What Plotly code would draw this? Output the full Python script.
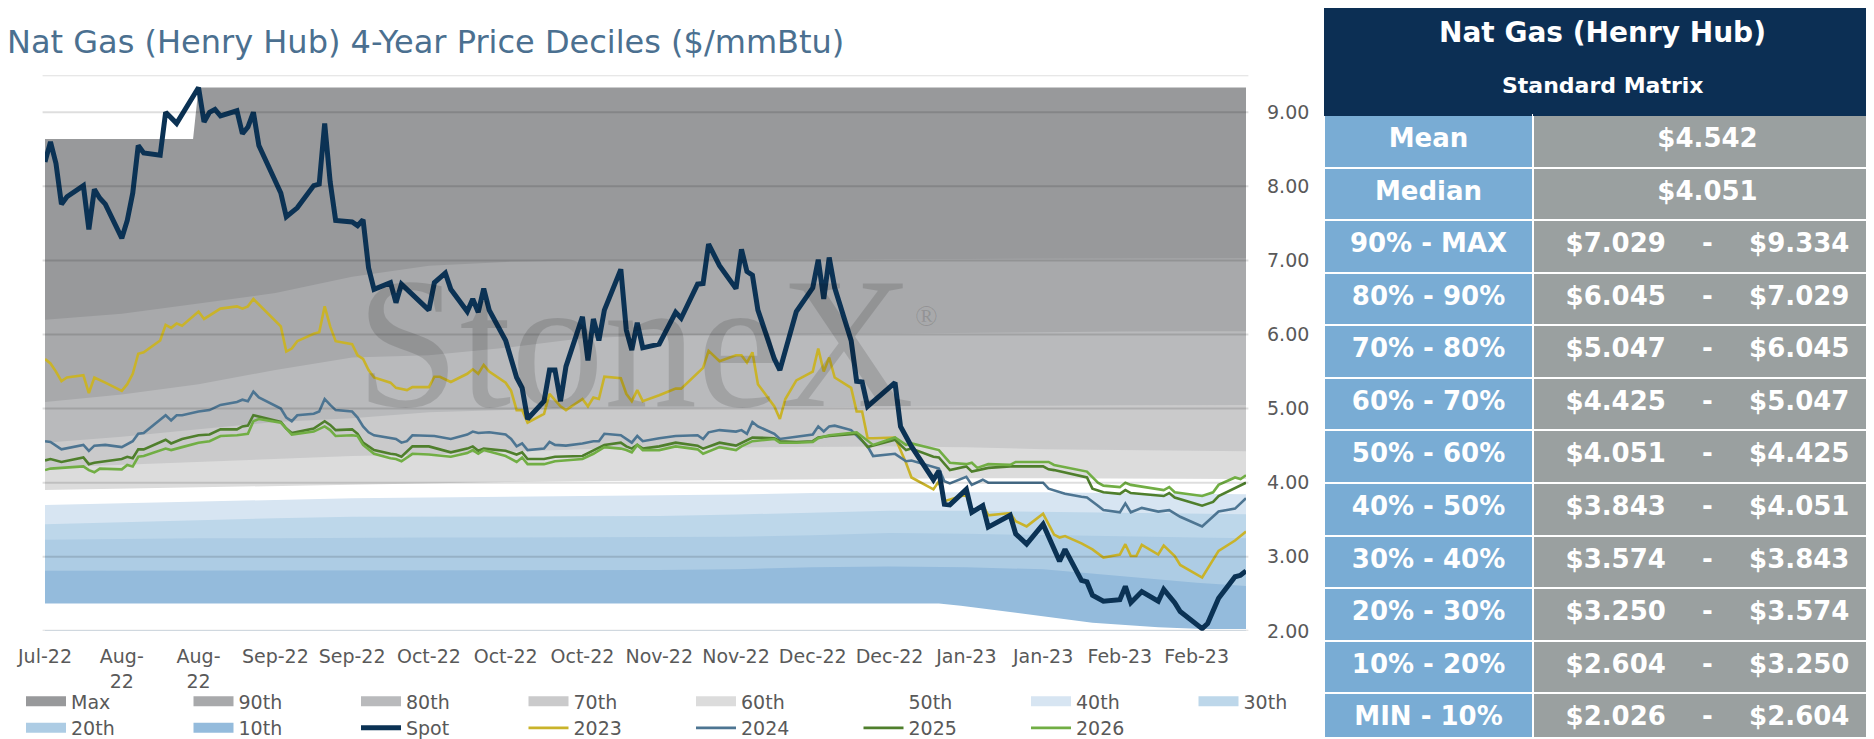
import plotly.graph_objects as go

# ---------------- data ----------------
BAND_DATES = ["2022-07-25", "2022-08-08", "2022-08-22", "2022-09-05", "2022-09-19", "2022-10-03",
              "2022-10-17", "2022-10-31", "2022-11-14", "2022-11-28", "2022-12-12", "2022-12-26",
              "2023-01-09", "2023-01-23", "2023-02-06", "2023-02-20", "2023-03-01"]
P90 = [6.20, 6.28, 6.42, 6.56, 6.78, 6.93, 6.98, 7.00, 7.00, 7.01, 7.01, 7.02, 7.02, 7.02, 7.03, 7.03, 7.029]
P80 = [5.09, 5.19, 5.33, 5.52, 5.69, 5.72, 5.82, 5.95, 5.99, 6.00, 6.01, 6.02, 6.03, 6.04, 6.04, 6.045, 6.045]
P70 = [4.54, 4.62, 4.72, 4.82, 4.87, 4.95, 4.98, 5.00, 5.00, 5.01, 5.02, 5.03, 5.04, 5.04, 5.045, 5.047, 5.047]
P60 = [4.20, 4.24, 4.29, 4.33, 4.36, 4.38, 4.42, 4.45, 4.47, 4.48, 4.48, 4.49, 4.48, 4.45, 4.44, 4.43, 4.425]
P50 = [3.90, 3.92, 3.94, 3.96, 3.98, 4.00, 4.01, 4.02, 4.03, 4.04, 4.04, 4.05, 4.06, 4.06, 4.06, 4.05, 4.051]
P40 = [3.70, 3.72, 3.74, 3.77, 3.79, 3.80, 3.81, 3.82, 3.82, 3.84, 3.86, 3.87, 3.87, 3.87, 3.86, 3.85, 3.843]
P30 = [3.44, 3.47, 3.50, 3.52, 3.54, 3.54, 3.54, 3.55, 3.55, 3.57, 3.60, 3.62, 3.62, 3.61, 3.60, 3.58, 3.574]
P20 = [3.23, 3.24, 3.25, 3.25, 3.26, 3.26, 3.26, 3.26, 3.26, 3.27, 3.29, 3.32, 3.31, 3.29, 3.27, 3.26, 3.250]
P10 = [2.81, 2.81, 2.81, 2.81, 2.82, 2.82, 2.82, 2.82, 2.82, 2.83, 2.86, 2.87, 2.86, 2.83, 2.74, 2.65, 2.604]

MAX_SERIES = [("2022-07-25", 8.64), ("2022-08-21", 8.64), ("2022-08-22", 9.334), ("2023-03-01", 9.334)]
MIN_SERIES = [("2022-07-25", 2.37), ("2023-01-04", 2.37), ("2023-01-08", 2.34), ("2023-01-20", 2.22),
              ("2023-02-01", 2.11), ("2023-02-13", 2.05), ("2023-02-21", 2.026), ("2023-03-01", 2.026)]

SPOT = [
    ("2022-07-25", 8.33), ("2022-07-26", 8.60), ("2022-07-27", 8.31), ("2022-07-28", 7.76), ("2022-07-29", 7.86),
    ("2022-08-01", 8.01), ("2022-08-02", 7.42), ("2022-08-03", 7.96), ("2022-08-04", 7.84), ("2022-08-05", 7.76),
    ("2022-08-08", 7.30), ("2022-08-09", 7.54), ("2022-08-10", 7.91), ("2022-08-11", 8.55), ("2022-08-12", 8.45),
    ("2022-08-15", 8.42), ("2022-08-16", 9.00), ("2022-08-18", 8.85), ("2022-08-22", 9.334), ("2022-08-23", 8.87),
    ("2022-08-24", 9.00), ("2022-08-25", 9.04), ("2022-08-26", 8.95), ("2022-08-29", 9.02), ("2022-08-30", 8.71),
    ("2022-08-31", 8.80), ("2022-09-01", 9.00), ("2022-09-02", 8.55), ("2022-09-06", 7.91), ("2022-09-07", 7.59),
    ("2022-09-09", 7.71), ("2022-09-12", 8.01), ("2022-09-13", 8.03), ("2022-09-14", 8.85), ("2022-09-15", 8.06),
    ("2022-09-16", 7.54), ("2022-09-19", 7.52), ("2022-09-20", 7.47), ("2022-09-21", 7.55), ("2022-09-22", 6.90),
    ("2022-09-23", 6.61), ("2022-09-26", 6.70), ("2022-09-27", 6.43), ("2022-09-28", 6.68), ("2022-10-03", 6.33),
    ("2022-10-04", 6.70), ("2022-10-06", 6.83), ("2022-10-07", 6.61), ("2022-10-10", 6.31), ("2022-10-11", 6.48),
    ("2022-10-12", 6.30), ("2022-10-13", 6.62), ("2022-10-14", 6.33), ("2022-10-17", 5.92), ("2022-10-19", 5.42),
    ("2022-10-20", 5.28), ("2022-10-21", 4.86), ("2022-10-24", 5.10), ("2022-10-25", 5.52), ("2022-10-26", 5.52),
    ("2022-10-27", 5.10), ("2022-10-28", 5.57), ("2022-10-31", 6.24), ("2022-11-01", 5.65), ("2022-11-02", 6.21),
    ("2022-11-03", 5.92), ("2022-11-04", 6.33), ("2022-11-07", 6.88), ("2022-11-08", 6.06), ("2022-11-09", 5.79),
    ("2022-11-10", 6.16), ("2022-11-11", 5.82), ("2022-11-14", 5.87), ("2022-11-17", 6.30), ("2022-11-18", 6.22),
    ("2022-11-21", 6.68), ("2022-11-22", 6.69), ("2022-11-23", 7.22), ("2022-11-25", 6.93), ("2022-11-28", 6.62),
    ("2022-11-29", 7.15), ("2022-11-30", 6.85), ("2022-12-01", 6.80), ("2022-12-02", 6.33), ("2022-12-05", 5.67),
    ("2022-12-06", 5.52), ("2022-12-09", 6.31), ("2022-12-12", 6.63), ("2022-12-13", 7.01), ("2022-12-14", 6.48),
    ("2022-12-15", 7.04), ("2022-12-16", 6.63), ("2022-12-19", 5.92), ("2022-12-20", 5.37), ("2022-12-21", 5.36),
    ("2022-12-22", 5.03), ("2022-12-27", 5.35), ("2022-12-28", 4.76), ("2022-12-30", 4.49), ("2023-01-03", 4.04),
    ("2023-01-04", 4.16), ("2023-01-05", 3.71), ("2023-01-06", 3.70), ("2023-01-09", 3.91), ("2023-01-10", 3.60),
    ("2023-01-12", 3.69), ("2023-01-13", 3.40), ("2023-01-17", 3.56), ("2023-01-18", 3.31), ("2023-01-20", 3.17),
    ("2023-01-23", 3.44), ("2023-01-25", 3.10), ("2023-01-26", 2.94), ("2023-01-27", 3.10), ("2023-01-30", 2.68),
    ("2023-01-31", 2.66), ("2023-02-01", 2.48), ("2023-02-03", 2.40), ("2023-02-06", 2.42), ("2023-02-07", 2.60),
    ("2023-02-08", 2.38), ("2023-02-10", 2.53), ("2023-02-13", 2.40), ("2023-02-14", 2.56), ("2023-02-16", 2.38),
    ("2023-02-17", 2.26), ("2023-02-21", 2.03), ("2023-02-22", 2.10), ("2023-02-24", 2.44), ("2023-02-27", 2.73),
    ("2023-02-28", 2.75), ("2023-03-01", 2.81)]

Y2023 = [
    ("2022-07-25", 5.67), ("2022-07-26", 5.61), ("2022-07-27", 5.50), ("2022-07-28", 5.37), ("2022-07-29", 5.42),
    ("2022-08-01", 5.45), ("2022-08-02", 5.21), ("2022-08-03", 5.42), ("2022-08-05", 5.35), ("2022-08-08", 5.24),
    ("2022-08-09", 5.33), ("2022-08-10", 5.47), ("2022-08-11", 5.74), ("2022-08-12", 5.76), ("2022-08-15", 5.92),
    ("2022-08-16", 6.13), ("2022-08-17", 6.09), ("2022-08-18", 6.15), ("2022-08-19", 6.12), ("2022-08-22", 6.31),
    ("2022-08-23", 6.21), ("2022-08-26", 6.35), ("2022-08-29", 6.38), ("2022-08-30", 6.35), ("2022-08-31", 6.38),
    ("2022-09-01", 6.48), ("2022-09-06", 6.11), ("2022-09-07", 5.77), ("2022-09-08", 5.81), ("2022-09-09", 5.91),
    ("2022-09-12", 6.01), ("2022-09-13", 6.03), ("2022-09-14", 6.38), ("2022-09-15", 6.11), ("2022-09-16", 5.91),
    ("2022-09-19", 5.87), ("2022-09-20", 5.72), ("2022-09-21", 5.67), ("2022-09-22", 5.52), ("2022-09-23", 5.42),
    ("2022-09-26", 5.35), ("2022-09-27", 5.28), ("2022-09-29", 5.25), ("2022-09-30", 5.29), ("2022-10-03", 5.29),
    ("2022-10-04", 5.43), ("2022-10-05", 5.43), ("2022-10-07", 5.36), ("2022-10-10", 5.47), ("2022-10-11", 5.53),
    ("2022-10-12", 5.47), ("2022-10-13", 5.59), ("2022-10-14", 5.50), ("2022-10-17", 5.35), ("2022-10-18", 5.24),
    ("2022-10-19", 4.98), ("2022-10-20", 4.98), ("2022-10-21", 4.81), ("2022-10-24", 4.93), ("2022-10-25", 5.20),
    ("2022-10-27", 5.03), ("2022-10-28", 4.98), ("2022-10-31", 5.13), ("2022-11-01", 5.03), ("2022-11-02", 5.15),
    ("2022-11-03", 5.13), ("2022-11-04", 5.43), ("2022-11-07", 5.41), ("2022-11-08", 5.20), ("2022-11-09", 5.10),
    ("2022-11-10", 5.25), ("2022-11-11", 5.10), ("2022-11-14", 5.18), ("2022-11-17", 5.27), ("2022-11-18", 5.27),
    ("2022-11-22", 5.55), ("2022-11-23", 5.78), ("2022-11-25", 5.64), ("2022-11-28", 5.72), ("2022-11-29", 5.72),
    ("2022-11-30", 5.62), ("2022-12-01", 5.76), ("2022-12-02", 5.33), ("2022-12-05", 5.03), ("2022-12-06", 4.86),
    ("2022-12-07", 5.13), ("2022-12-09", 5.38), ("2022-12-12", 5.50), ("2022-12-13", 5.81), ("2022-12-14", 5.50),
    ("2022-12-15", 5.69), ("2022-12-16", 5.42), ("2022-12-19", 5.28), ("2022-12-20", 4.96), ("2022-12-21", 4.96),
    ("2022-12-22", 4.60), ("2022-12-23", 4.60), ("2022-12-27", 4.61), ("2022-12-29", 4.27), ("2022-12-30", 4.07),
    ("2023-01-03", 3.91), ("2023-01-04", 4.02), ("2023-01-05", 3.75), ("2023-01-06", 3.77), ("2023-01-09", 3.84),
    ("2023-01-10", 3.59), ("2023-01-12", 3.70), ("2023-01-13", 3.56), ("2023-01-17", 3.59), ("2023-01-18", 3.48),
    ("2023-01-20", 3.41), ("2023-01-23", 3.58), ("2023-01-25", 3.30), ("2023-01-26", 3.26), ("2023-01-27", 3.28),
    ("2023-01-30", 3.18), ("2023-02-01", 3.10), ("2023-02-03", 2.99), ("2023-02-06", 3.03), ("2023-02-07", 3.17),
    ("2023-02-08", 3.01), ("2023-02-09", 3.01), ("2023-02-10", 3.16), ("2023-02-13", 3.03), ("2023-02-14", 3.15),
    ("2023-02-16", 3.01), ("2023-02-17", 2.89), ("2023-02-21", 2.72), ("2023-02-24", 3.08), ("2023-02-27", 3.22),
    ("2023-03-01", 3.34)]

Y2024 = [
    ("2022-07-25", 4.56), ("2022-07-26", 4.55), ("2022-07-28", 4.45), ("2022-08-01", 4.51), ("2022-08-02", 4.43),
    ("2022-08-03", 4.50), ("2022-08-05", 4.51), ("2022-08-08", 4.48), ("2022-08-10", 4.56), ("2022-08-11", 4.66),
    ("2022-08-12", 4.67), ("2022-08-16", 4.91), ("2022-08-17", 4.84), ("2022-08-18", 4.91), ("2022-08-19", 4.91),
    ("2022-08-22", 4.96), ("2022-08-24", 4.98), ("2022-08-26", 5.05), ("2022-08-29", 5.09), ("2022-08-30", 5.12),
    ("2022-08-31", 5.10), ("2022-09-01", 5.23), ("2022-09-02", 5.15), ("2022-09-06", 5.00), ("2022-09-07", 4.88),
    ("2022-09-08", 4.83), ("2022-09-09", 4.91), ("2022-09-12", 4.93), ("2022-09-13", 4.96), ("2022-09-14", 5.13),
    ("2022-09-15", 5.05), ("2022-09-16", 4.98), ("2022-09-19", 4.96), ("2022-09-20", 4.88), ("2022-09-21", 4.76),
    ("2022-09-22", 4.68), ("2022-09-23", 4.64), ("2022-09-26", 4.60), ("2022-09-27", 4.59), ("2022-09-28", 4.54),
    ("2022-09-29", 4.56), ("2022-09-30", 4.64), ("2022-10-03", 4.64), ("2022-10-04", 4.63), ("2022-10-07", 4.59),
    ("2022-10-10", 4.65), ("2022-10-11", 4.69), ("2022-10-12", 4.67), ("2022-10-14", 4.68), ("2022-10-17", 4.65),
    ("2022-10-18", 4.59), ("2022-10-19", 4.49), ("2022-10-20", 4.53), ("2022-10-21", 4.44), ("2022-10-24", 4.46),
    ("2022-10-25", 4.55), ("2022-10-26", 4.51), ("2022-10-28", 4.50), ("2022-10-31", 4.53), ("2022-11-02", 4.56),
    ("2022-11-03", 4.56), ("2022-11-04", 4.66), ("2022-11-07", 4.64), ("2022-11-08", 4.59), ("2022-11-09", 4.54),
    ("2022-11-10", 4.63), ("2022-11-11", 4.56), ("2022-11-14", 4.60), ("2022-11-17", 4.63), ("2022-11-21", 4.64),
    ("2022-11-22", 4.59), ("2022-11-23", 4.68), ("2022-11-25", 4.71), ("2022-11-28", 4.69), ("2022-11-29", 4.71),
    ("2022-11-30", 4.66), ("2022-12-01", 4.82), ("2022-12-02", 4.76), ("2022-12-05", 4.66), ("2022-12-06", 4.59),
    ("2022-12-07", 4.60), ("2022-12-09", 4.63), ("2022-12-12", 4.65), ("2022-12-13", 4.76), ("2022-12-14", 4.69),
    ("2022-12-15", 4.76), ("2022-12-16", 4.77), ("2022-12-19", 4.71), ("2022-12-20", 4.64), ("2022-12-22", 4.49),
    ("2022-12-23", 4.36), ("2022-12-27", 4.39), ("2022-12-29", 4.29), ("2022-12-30", 4.30), ("2023-01-04", 4.19),
    ("2023-01-05", 4.02), ("2023-01-06", 3.99), ("2023-01-09", 4.08), ("2023-01-10", 3.97), ("2023-01-12", 4.04),
    ("2023-01-13", 4.00), ("2023-01-17", 4.00), ("2023-01-18", 3.99), ("2023-01-23", 4.00), ("2023-01-24", 3.92),
    ("2023-01-25", 3.90), ("2023-01-27", 3.85), ("2023-01-30", 3.81), ("2023-01-31", 3.80), ("2023-02-02", 3.69),
    ("2023-02-03", 3.63), ("2023-02-06", 3.60), ("2023-02-07", 3.72), ("2023-02-08", 3.60), ("2023-02-10", 3.66),
    ("2023-02-13", 3.61), ("2023-02-15", 3.63), ("2023-02-17", 3.54), ("2023-02-21", 3.41), ("2023-02-24", 3.61),
    ("2023-02-27", 3.65), ("2023-03-01", 3.79)]

Y2025 = [
    ("2022-07-25", 4.30), ("2022-07-26", 4.32), ("2022-07-28", 4.28), ("2022-08-01", 4.34), ("2022-08-02", 4.25),
    ("2022-08-03", 4.27), ("2022-08-08", 4.32), ("2022-08-09", 4.35), ("2022-08-10", 4.33), ("2022-08-11", 4.45),
    ("2022-08-12", 4.45), ("2022-08-16", 4.58), ("2022-08-17", 4.53), ("2022-08-19", 4.59), ("2022-08-22", 4.64),
    ("2022-08-24", 4.65), ("2022-08-26", 4.72), ("2022-08-29", 4.72), ("2022-08-30", 4.76), ("2022-08-31", 4.77),
    ("2022-09-01", 4.91), ("2022-09-06", 4.82), ("2022-09-07", 4.73), ("2022-09-08", 4.67), ("2022-09-12", 4.73),
    ("2022-09-14", 4.83), ("2022-09-15", 4.78), ("2022-09-16", 4.71), ("2022-09-19", 4.72), ("2022-09-20", 4.66),
    ("2022-09-21", 4.54), ("2022-09-23", 4.44), ("2022-09-26", 4.39), ("2022-09-27", 4.38), ("2022-09-28", 4.35),
    ("2022-09-30", 4.49), ("2022-10-03", 4.49), ("2022-10-07", 4.41), ("2022-10-10", 4.46), ("2022-10-11", 4.49),
    ("2022-10-12", 4.43), ("2022-10-13", 4.46), ("2022-10-17", 4.43), ("2022-10-19", 4.38), ("2022-10-20", 4.41),
    ("2022-10-21", 4.32), ("2022-10-24", 4.32), ("2022-10-26", 4.35), ("2022-10-31", 4.36), ("2022-11-02", 4.44),
    ("2022-11-04", 4.51), ("2022-11-07", 4.54), ("2022-11-08", 4.49), ("2022-11-09", 4.46), ("2022-11-10", 4.51),
    ("2022-11-11", 4.46), ("2022-11-14", 4.49), ("2022-11-17", 4.54), ("2022-11-21", 4.50), ("2022-11-22", 4.46),
    ("2022-11-25", 4.54), ("2022-11-28", 4.50), ("2022-11-29", 4.54), ("2022-12-01", 4.61), ("2022-12-05", 4.60),
    ("2022-12-06", 4.56), ("2022-12-09", 4.55), ("2022-12-12", 4.56), ("2022-12-13", 4.61), ("2022-12-15", 4.63),
    ("2022-12-20", 4.66), ("2022-12-22", 4.48), ("2022-12-27", 4.58), ("2022-12-29", 4.44), ("2022-12-30", 4.46),
    ("2023-01-03", 4.35), ("2023-01-04", 4.34), ("2023-01-06", 4.17), ("2023-01-09", 4.22), ("2023-01-10", 4.15),
    ("2023-01-13", 4.20), ("2023-01-17", 4.22), ("2023-01-23", 4.22), ("2023-01-24", 4.18), ("2023-01-25", 4.17),
    ("2023-01-27", 4.14), ("2023-01-31", 4.07), ("2023-02-01", 3.92), ("2023-02-03", 3.87), ("2023-02-06", 3.85),
    ("2023-02-07", 3.90), ("2023-02-08", 3.86), ("2023-02-14", 3.82), ("2023-02-15", 3.86), ("2023-02-16", 3.80),
    ("2023-02-21", 3.69), ("2023-02-23", 3.74), ("2023-02-24", 3.82), ("2023-03-01", 4.00)]

Y2026 = [
    ("2022-07-25", 4.17), ("2022-07-26", 4.19), ("2022-07-28", 4.20), ("2022-08-01", 4.22), ("2022-08-02", 4.17),
    ("2022-08-03", 4.14), ("2022-08-04", 4.19), ("2022-08-08", 4.18), ("2022-08-09", 4.24), ("2022-08-10", 4.22),
    ("2022-08-11", 4.35), ("2022-08-12", 4.36), ("2022-08-16", 4.46), ("2022-08-17", 4.44), ("2022-08-19", 4.48),
    ("2022-08-22", 4.54), ("2022-08-24", 4.56), ("2022-08-26", 4.63), ("2022-08-29", 4.64), ("2022-08-31", 4.66),
    ("2022-09-01", 4.83), ("2022-09-02", 4.86), ("2022-09-06", 4.81), ("2022-09-07", 4.73), ("2022-09-08", 4.65),
    ("2022-09-12", 4.69), ("2022-09-14", 4.76), ("2022-09-15", 4.71), ("2022-09-16", 4.63), ("2022-09-19", 4.64),
    ("2022-09-20", 4.63), ("2022-09-21", 4.51), ("2022-09-23", 4.39), ("2022-09-26", 4.33), ("2022-09-27", 4.32),
    ("2022-09-28", 4.29), ("2022-09-30", 4.39), ("2022-10-03", 4.38), ("2022-10-07", 4.35), ("2022-10-10", 4.40),
    ("2022-10-11", 4.44), ("2022-10-12", 4.39), ("2022-10-13", 4.44), ("2022-10-17", 4.36), ("2022-10-19", 4.28),
    ("2022-10-20", 4.34), ("2022-10-21", 4.25), ("2022-10-24", 4.25), ("2022-10-26", 4.29), ("2022-10-31", 4.32),
    ("2022-11-02", 4.39), ("2022-11-04", 4.48), ("2022-11-07", 4.46), ("2022-11-08", 4.44), ("2022-11-09", 4.41),
    ("2022-11-10", 4.51), ("2022-11-11", 4.44), ("2022-11-14", 4.44), ("2022-11-17", 4.49), ("2022-11-21", 4.45),
    ("2022-11-22", 4.39), ("2022-11-25", 4.48), ("2022-11-28", 4.44), ("2022-11-29", 4.49), ("2022-12-01", 4.56),
    ("2022-12-05", 4.59), ("2022-12-06", 4.54), ("2022-12-09", 4.54), ("2022-12-12", 4.55), ("2022-12-13", 4.60),
    ("2022-12-15", 4.64), ("2022-12-20", 4.68), ("2022-12-23", 4.51), ("2022-12-27", 4.61), ("2022-12-29", 4.51),
    ("2022-12-30", 4.53), ("2023-01-03", 4.45), ("2023-01-04", 4.44), ("2023-01-06", 4.27), ("2023-01-09", 4.25),
    ("2023-01-10", 4.27), ("2023-01-11", 4.20), ("2023-01-13", 4.25), ("2023-01-17", 4.24), ("2023-01-18", 4.28),
    ("2023-01-24", 4.28), ("2023-01-25", 4.24), ("2023-01-31", 4.15), ("2023-02-02", 4.00), ("2023-02-03", 3.96),
    ("2023-02-06", 3.94), ("2023-02-07", 4.00), ("2023-02-08", 3.97), ("2023-02-14", 3.90), ("2023-02-15", 3.94),
    ("2023-02-16", 3.87), ("2023-02-21", 3.82), ("2023-02-23", 3.87), ("2023-02-24", 3.97), ("2023-02-27", 4.07),
    ("2023-02-28", 4.05), ("2023-03-01", 4.10)]

TICK_DATES = ["2022-07-25", "2022-08-08", "2022-08-22", "2022-09-05", "2022-09-19", "2022-10-03", "2022-10-17",
              "2022-10-31", "2022-11-14", "2022-11-28", "2022-12-12", "2022-12-26", "2023-01-09", "2023-01-23",
              "2023-02-06", "2023-02-20"]
TICK_TEXT = ["Jul-22", "Aug-<br>22", "Aug-<br>22", "Sep-22", "Sep-22", "Oct-22", "Oct-22", "Oct-22", "Nov-22",
             "Nov-22", "Dec-22", "Dec-22", "Jan-23", "Jan-23", "Feb-23", "Feb-23"]
Y_TICKS = [2, 3, 4, 5, 6, 7, 8, 9]
Y_TOP = 9.5

TABLE_LABELS = ["Mean", "Median", "90% - MAX", "80% - 90%", "70% - 80%", "60% - 70%", "50% - 60%",
                "40% - 50%", "30% - 40%", "20% - 30%", "10% - 20%", "MIN - 10%"]
TABLE_LOW = [4.542, 4.051, 7.029, 6.045, 5.047, 4.425, 4.051, 3.843, 3.574, 3.250, 2.604, 2.026]
TABLE_HIGH = [None, None, 9.334, 7.029, 6.045, 5.047, 4.425, 4.051, 3.843, 3.574, 3.250, 2.604]

# ---------------- styling ----------------
W, H = 1874, 739
FONT = "DejaVu Sans"
TXT = "#595959"
NAVY = "#0c2f54"
BAND_NAMES = ["Max", "90th", "80th", "70th", "60th", "50th", "40th", "30th", "20th", "10th"]
BAND_COLORS = ["#98999b", "#a8a9ab", "#b9babc", "#cacacb", "#dcdcdc", "#ffffff",
               "#d7e5f2", "#bdd7ea", "#adcce4", "#94bbdc"]
LINE_SPECS = [("Spot", SPOT, "#0b3254", 5.0), ("2023", Y2023, "#c9b32a", 2.6),
              ("2024", Y2024, "#4d7592", 2.6), ("2025", Y2025, "#4f7f2c", 2.6),
              ("2026", Y2026, "#71ae44", 2.6)]

fig = go.Figure()

# decile areas, each filled down to the axis, later ones on top
band_series = [list(zip(*MAX_SERIES))] + [(BAND_DATES, v) for v in (P90, P80, P70, P60, P50, P40, P30, P20, P10)]
for name, color, (xs, ys) in zip(BAND_NAMES, BAND_COLORS, band_series):
    fig.add_trace(go.Scatter(x=list(xs), y=list(ys), mode="lines", line=dict(width=0, color=color),
                             fill="tozeroy", fillcolor=color, showlegend=False, hoverinfo="skip"))
mx, my = zip(*MIN_SERIES)
fig.add_trace(go.Scatter(x=list(mx), y=list(my), mode="lines", line=dict(width=0, color="white"),
                         fill="tozeroy", fillcolor="white", showlegend=False, hoverinfo="skip"))

# legend swatches for the areas
for i, (name, color) in enumerate(zip(BAND_NAMES, BAND_COLORS)):
    fig.add_trace(go.Scatter(x=[None], y=[None], mode="lines", line=dict(color=color, width=12),
                             name=name, legend="legend" if i < 8 else "legend2", legendrank=i + 1))

# forward curves and spot (spot drawn last so it sits on top)
names_order = [s[0] for s in LINE_SPECS]
for name, series, color, width in LINE_SPECS[1:] + LINE_SPECS[:1]:
    xs, ys = zip(*series)
    fig.add_trace(go.Scatter(x=list(xs), y=list(ys), mode="lines", name=name,
                             line=dict(color=color, width=width), legend="legend2",
                             legendrank=names_order.index(name) + 20))

# table (header row is the navy title block)
NB = "\u00a0" * 4
cells_right = []
for lo, hi in zip(TABLE_LOW, TABLE_HIGH):
    if hi is None:
        cells_right.append(f"<b>${lo:.3f}</b>")
    else:
        cells_right.append(f"<b>${lo:.3f}{NB}-{NB}${hi:.3f}</b>")
TABLE_X0 = 1316 / W
HEADER_H = 107
ROW_H = (H - HEADER_H) / len(TABLE_LABELS) - 0.1
fig.add_trace(go.Table(
    domain=dict(x=[TABLE_X0, 1], y=[0, 1]),
    columnwidth=[209, 349],
    header=dict(values=["", ""], height=HEADER_H, fill_color=NAVY, line=dict(color=NAVY, width=1)),
    cells=dict(values=[[f"<b>{t}</b>" for t in TABLE_LABELS], cells_right],
               fill_color=[["#79acd4"] * len(TABLE_LABELS), ["#9aa0a0"] * len(TABLE_LABELS)],
               line=dict(color="white", width=2),
               font=dict(family=FONT, size=26, color="white"),
               align="center", height=ROW_H),
))

shapes = []
for v in Y_TICKS + [Y_TOP]:
    shapes.append(dict(type="line", xref="x domain", yref="y", x0=-0.002, x1=1.002, y0=v, y1=v,
                       line=dict(color="rgba(0,0,0,0.13)", width=2), layer="above"))

annotations = [
    dict(text="Nat Gas (Henry Hub) 4-Year Price Deciles ($/mmBtu)", x=0, y=1 - 34 / H, xref="paper", yref="paper",
         xanchor="left", yanchor="middle", xshift=-3, showarrow=False,
         font=dict(family=FONT, size=32, color="#4b7090")),
    dict(text="StoneX", x=627 / W, y=1 - 340 / H, xref="paper", yref="paper", xanchor="center", yanchor="middle",
         showarrow=False, font=dict(family="Liberation Serif", size=186, color="rgba(0,0,0,0.13)")),
    dict(text="®", x=918 / W, y=1 - 312 / H, xref="paper", yref="paper", xanchor="center", yanchor="middle",
         showarrow=False, font=dict(family="Liberation Serif", size=30, color="rgba(0,0,0,0.13)")),
    dict(text="<b>Nat Gas (Henry Hub)</b>", x=(TABLE_X0 + 1) / 2, y=1 - 25 / H, xref="paper", yref="paper",
         xanchor="center", yanchor="middle", showarrow=False, font=dict(family=FONT, size=28, color="white")),
    dict(text="<b>Standard Matrix</b>", x=(TABLE_X0 + 1) / 2, y=1 - 79 / H, xref="paper", yref="paper",
         xanchor="center", yanchor="middle", showarrow=False, font=dict(family=FONT, size=22, color="white")),
]

legend_common = dict(orientation="h", xanchor="left", yanchor="middle", x=13 / W,
                     font=dict(family=FONT, size=19, color=TXT), itemwidth=40,
                     entrywidth=112.5, entrywidthmode="pixels", bgcolor="rgba(0,0,0,0)",
                     borderwidth=0, tracegroupgap=0, itemclick=False, itemdoubleclick=False)

fig.update_layout(
    template="none",
    width=W, height=H,
    margin=dict(l=0, r=0, t=0, b=0),
    paper_bgcolor="white", plot_bgcolor="white",
    font=dict(family=FONT, color=TXT),
    showlegend=True,
    legend=dict(y=1 - 703 / H, **legend_common),
    legend2=dict(y=1 - 730 / H, **legend_common),
    xaxis=dict(type="date", domain=[37 / W, 1238 / W], range=[BAND_DATES[0], BAND_DATES[-1]],
               tickmode="array", tickvals=TICK_DATES, ticktext=TICK_TEXT, showgrid=False, zeroline=False,
               showline=False, ticks="", tickangle=0, automargin=False, ticklabelstandoff=12,
               tickfont=dict(family=FONT, size=19, color=TXT)),
    yaxis=dict(domain=[1 - 631.4 / H, 1 - 68.15 / H], range=[2, Y_TOP], side="right",
               tickmode="array", tickvals=Y_TICKS, ticktext=[f"{v:.2f}" for v in Y_TICKS],
               showgrid=False, zeroline=False, showline=False, ticks="", automargin=False,
               ticklabelstandoff=20, tickfont=dict(family=FONT, size=19, color=TXT)),
    shapes=shapes,
    annotations=annotations,
)

fig.write_html("out.html")
